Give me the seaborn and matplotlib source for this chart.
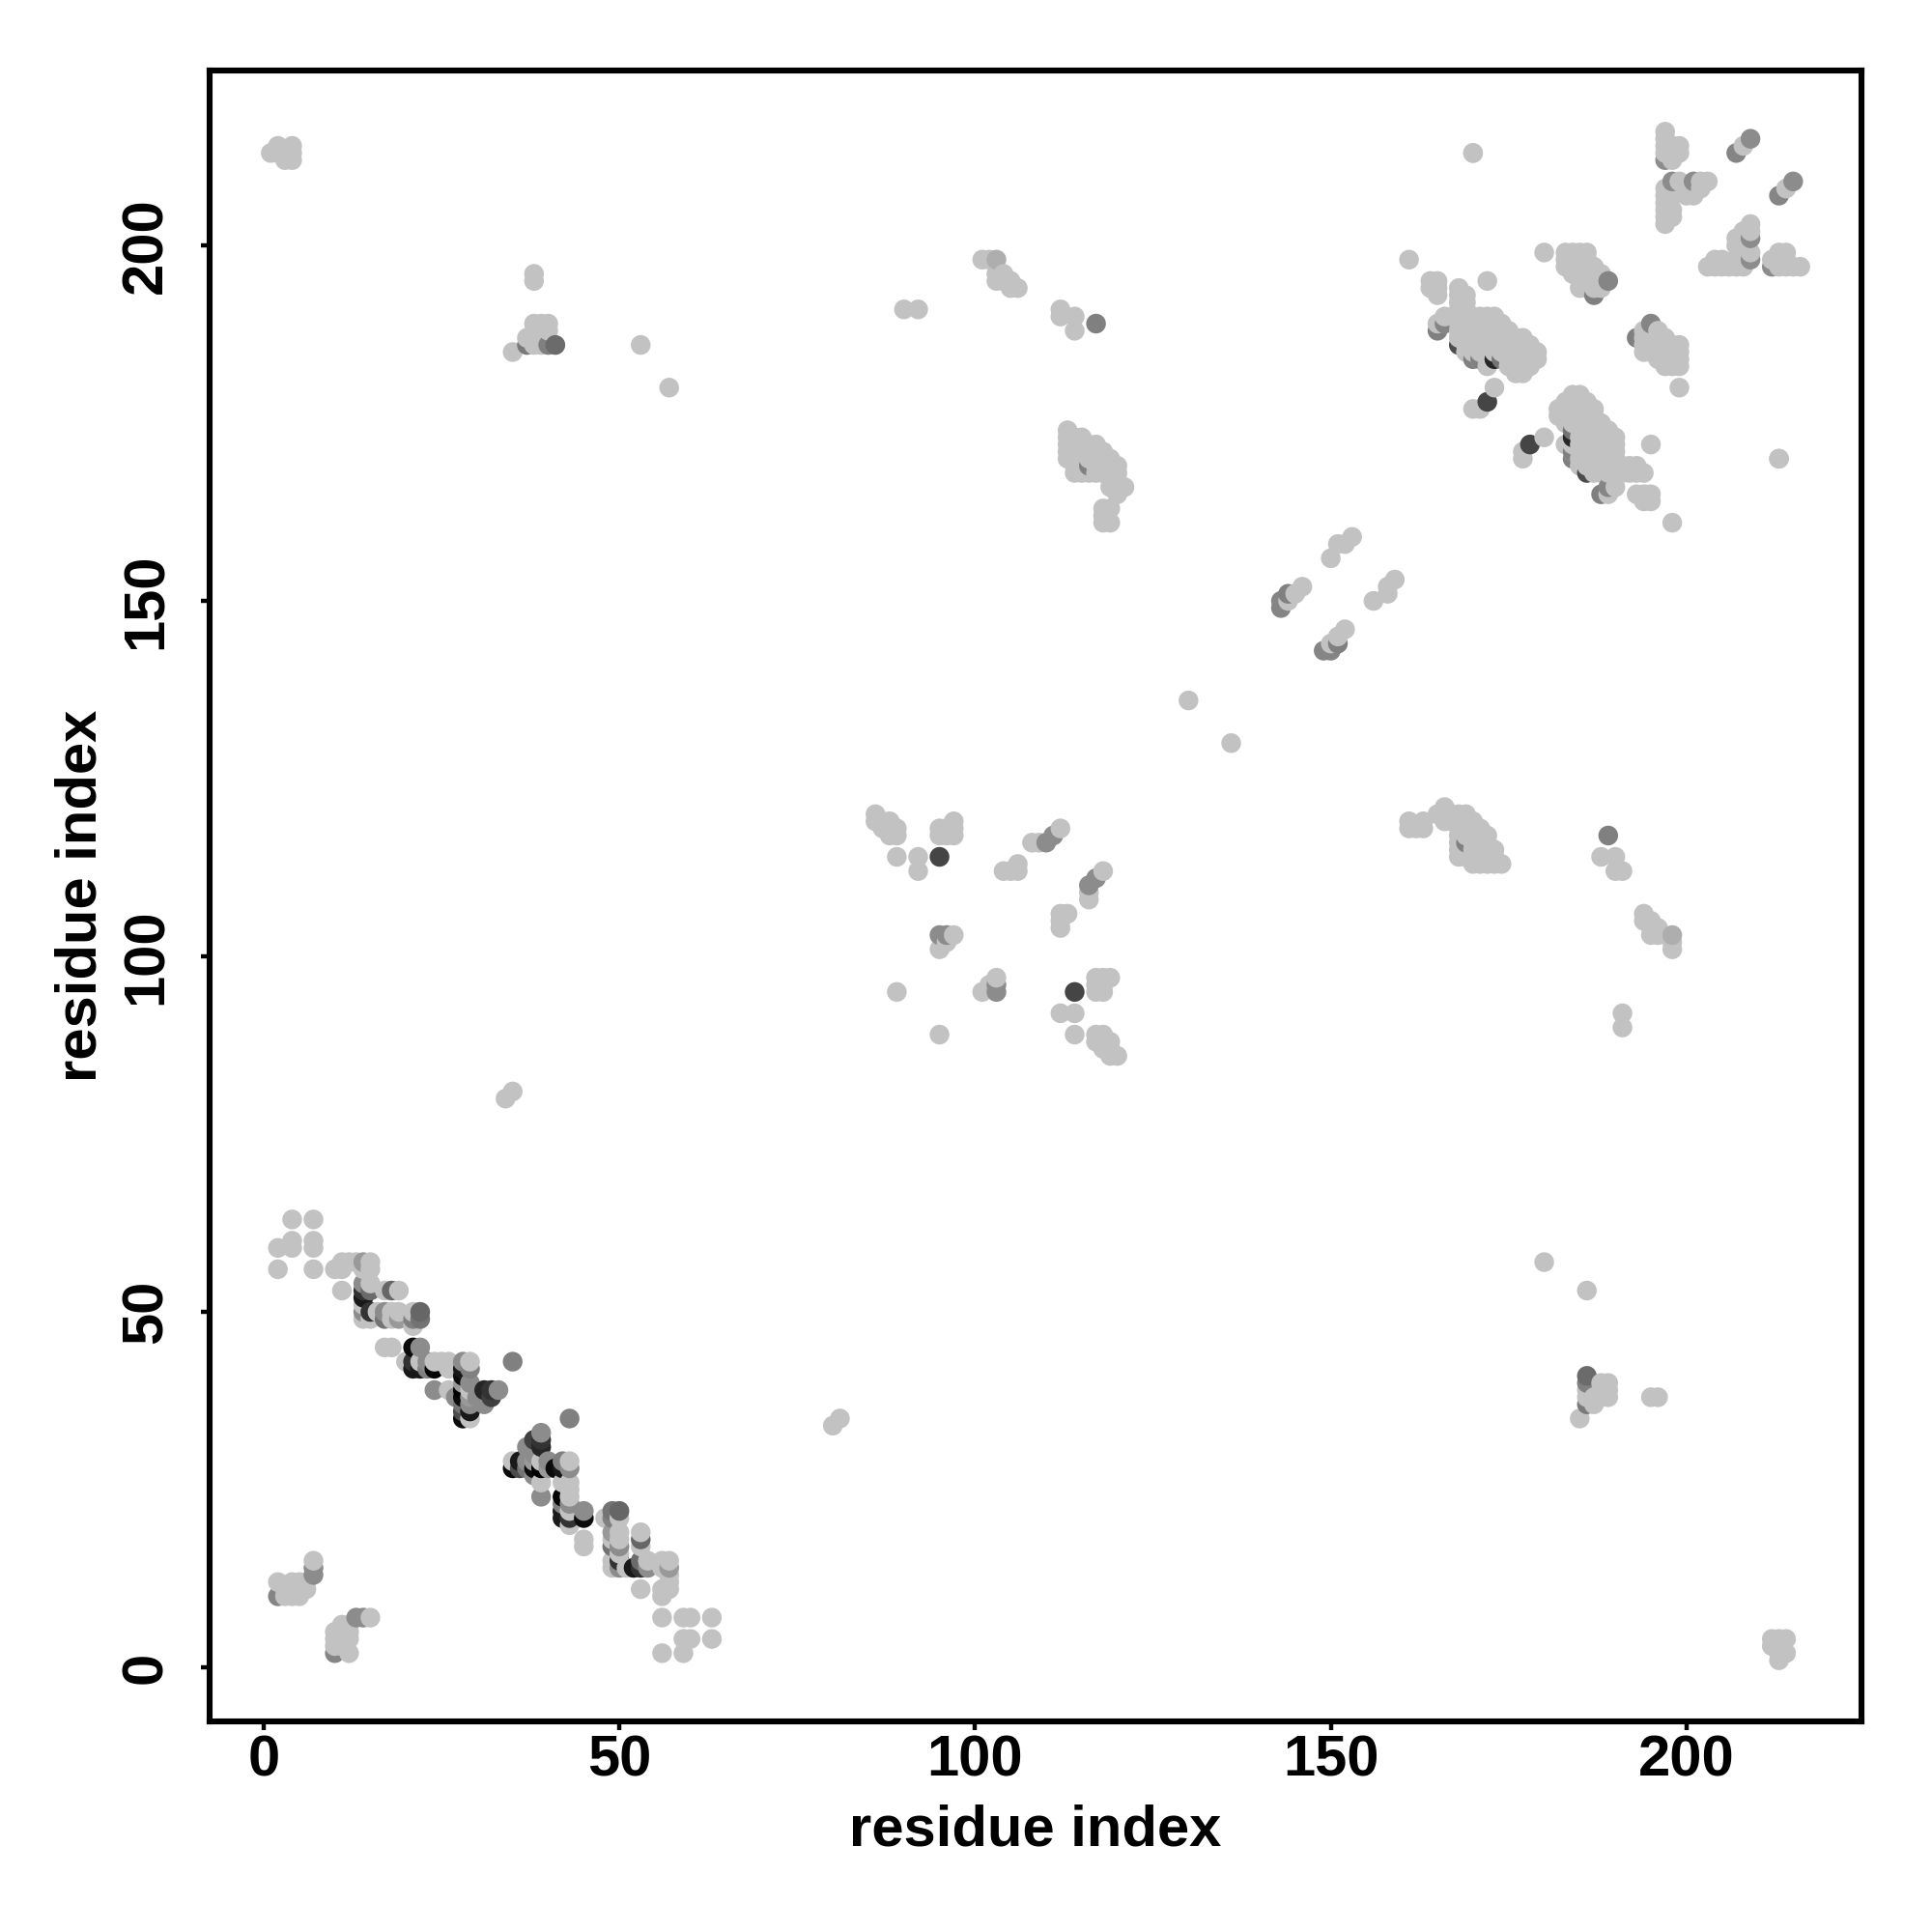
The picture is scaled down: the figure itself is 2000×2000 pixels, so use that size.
import matplotlib
matplotlib.use("Agg")
import matplotlib.pyplot as plt
import pandas as pd
import seaborn as sns

X_TICKS = [0, 50, 100, 150, 200]
Y_TICKS = [0, 50, 100, 150, 200]
AXIS_LABEL = "residue index"
LIGHT_SHADE = 0.76

# light contacts, only the i < j half: j -> list of i
light_rows = {
    216: [197],
    215: [197],
    214: [197, 198, 199, 208, 2, 4],
    213: [197, 198, 199, 170, 1, 2, 3, 4],
    212: [198, 3, 4],
    209: [199, 202, 203],
    208: [197, 202],
    207: [197, 198, 200, 201],
    206: [197],
    205: [197, 198],
    204: [197, 198],
    203: [197],
    199: [180, 183, 184, 185, 186],
    198: [161, 183, 184, 185, 186, 101, 102],
    197: [183, 184, 185, 186, 187],
    196: [184, 185, 186, 187, 188, 103, 104, 38],
    195: [164, 165, 172, 185, 186, 187, 188, 103, 104, 105, 38],
    194: [164, 165, 168, 185, 186, 187, 188, 105, 106],
    193: [165, 168, 169],
    192: [168, 169],
    191: [168, 169, 90, 92, 112],
    190: [166, 168, 169, 170, 171, 172, 173, 112, 114],
    189: [165, 168, 169, 170, 171, 172, 173, 174, 38, 39, 40],
    188: [168, 169, 170, 171, 172, 173, 174, 175, 114, 38, 39, 40],
    187: [168, 169, 170, 171, 172, 173, 174, 175, 176, 177, 37, 38],
    186: [169, 170, 171, 172, 173, 174, 175, 176, 177, 178, 38, 39, 53],
    185: [169, 170, 171, 172, 173, 174, 175, 176, 177, 178, 179, 35],
    184: [171, 172, 175, 176, 177, 178, 179],
    183: [172, 175, 176, 177, 178],
    182: [176, 177],
    180: [173, 57],
    177: [170, 171],
    174: [113],
    173: [113, 114, 115],
    172: [113, 114, 115, 116, 117],
    171: [113, 114, 115, 116, 117, 118],
    170: [113, 114, 115, 116, 117, 118, 119, 213],
    169: [114, 115, 117, 118, 119, 120],
    168: [114, 115, 116, 117, 118, 119, 120],
    167: [119, 120],
    166: [119, 120, 121],
    165: [120],
    163: [118, 119],
    162: [118],
    161: [118, 119],
    159: [153],
    158: [151, 152],
    156: [150],
    152: [146],
    151: [145],
    150: [144],
    136: [130],
    120: [86],
    119: [86, 87, 88, 97],
    118: [87, 88, 89, 95, 96, 97, 112],
    117: [88, 89, 95, 96, 97],
    116: [108, 109],
    114: [89, 92],
    113: [106],
    112: [92, 104, 105, 106],
    103: [97],
    102: [96],
    101: [95],
    95: [89],
    81: [35],
    80: [34],
    63: [4, 7],
    60: [4, 7],
    59: [2, 4, 7],
    57: [11, 12, 13, 15],
    56: [2, 7, 10, 11, 14, 15],
    54: [15],
    53: [11, 17, 19],
    51: [14],
    50: [16, 18, 19, 21],
    49: [14, 15, 18],
    48: [21],
    45: [17, 18],
    43: [20, 22, 24, 25, 26, 29],
    42: [26],
    39: [26, 29],
    35: [29],
    15: [7],
    12: [2, 4, 5, 6],
    11: [3, 4, 5, 6],
    10: [3, 4, 5],
}

# darker contacts, also i < j: residue i, residue j, grey level
dark_i = [197, 198, 201, 207, 209, 189, 187, 165, 166, 168, 170, 171, 173, 174, 172,
          41, 40, 37, 117, 103, 110, 111, 95, 95, 96, 116,
          143, 143, 144, 14, 14, 14, 15, 14, 18, 14, 15, 17, 22, 17, 19, 21, 22,
          21, 22, 21, 23, 28, 21, 22, 23, 24, 28, 29, 28, 35, 24, 27, 28, 29,
          28, 31, 32, 33, 28, 29, 30, 31, 32, 28, 29, 31, 28, 29, 28, 2, 7, 7]
dark_j = [212, 209, 209, 213, 215, 195, 193, 188, 189, 186, 184, 184, 184, 184, 178,
          186, 186, 186, 189, 198, 116, 117, 114, 103, 103, 169,
          149, 150, 151, 57, 54, 53, 53, 52, 53, 50, 50, 50, 50, 49, 49, 49, 49,
          45, 45, 43, 43, 43, 42, 42, 42, 42, 42, 42, 41, 43, 39, 38, 40, 40,
          39, 39, 39, 39, 38, 38, 38, 38, 38, 37, 37, 37, 36, 36, 35, 10, 13, 14]
dark_shade = [0.55, 0.55, 0.55, 0.52, 0.55, 0.52, 0.5, 0.5, 0.52, 0.3, 0.5, 0.5, 0.15, 0.45, 0.27,
              0.42, 0.5, 0.48, 0.5, 0.68, 0.55, 0.55, 0.27, 0.55, 0.55, 0.5,
              0.52, 0.52, 0.5, 0.6, 0.55, 0.2, 0.42, 0.1, 0.4, 0.55, 0.2, 0.55, 0.4, 0.45, 0.6, 0.5, 0.45,
              0.05, 0.55, 0.2, 0.55, 0.55, 0.1, 0.1, 0.5, 0.02, 0.1, 0.5, 0.05, 0.5, 0.55, 0.55, 0.6, 0.55,
              0.0, 0.15, 0.2, 0.55, 0.05, 0.6, 0.55, 0.55, 0.25, 0.45, 0.55, 0.55, 0.3, 0.1, 0.05, 0.52, 0.55, 0.55]

light_i = [i for j, row in light_rows.items() for i in row]
light_j = [j for j, row in light_rows.items() for i in row]

half = pd.concat([
    pd.DataFrame({"i": light_i, "j": light_j, "shade": LIGHT_SHADE}),
    pd.DataFrame({"i": dark_i, "j": dark_j, "shade": dark_shade}),
])
# the contact map is symmetric
mirror = half.rename(columns={"i": "j", "j": "i"})
contacts = pd.concat([half, mirror]).sort_values(["i", "j"])

sns.set_theme(style="white")
plt.rcParams["font.family"] = ["Liberation Sans", "DejaVu Sans"]

fig, ax = plt.subplots(figsize=(10, 10), dpi=200)
fig.subplots_adjust(left=0.1085, right=0.9635, top=0.9635, bottom=0.109)

sns.scatterplot(data=contacts, x="i", y="j", hue="shade", palette="gray", hue_norm=(0, 1),
                s=54, linewidth=0, legend=False, ax=ax)

ax.set_xlim(-7.6, 224.6)
ax.set_ylim(-7.6, 224.6)
ax.set_xticks(X_TICKS)
ax.set_yticks(Y_TICKS)
ax.tick_params(axis="both", length=3.2, width=1.6, color="black", labelsize=21.5, bottom=True, left=True)
ax.tick_params(axis="x", pad=1.8)
ax.tick_params(axis="y", pad=10.3)
plt.setp(ax.get_xticklabels(), fontweight="bold", color="black")
plt.setp(ax.get_yticklabels(), fontweight="bold", color="black", rotation=90, va="center")
ax.set_xlabel(AXIS_LABEL, fontsize=21.5, fontweight="bold", color="black", labelpad=6)
ax.set_ylabel(AXIS_LABEL, fontsize=21.5, fontweight="bold", color="black", labelpad=4.7)
for side in ax.spines.values():
    side.set_visible(True)
    side.set_color("black")
    side.set_linewidth(2.2)

fig.savefig("out.png", dpi=200)
